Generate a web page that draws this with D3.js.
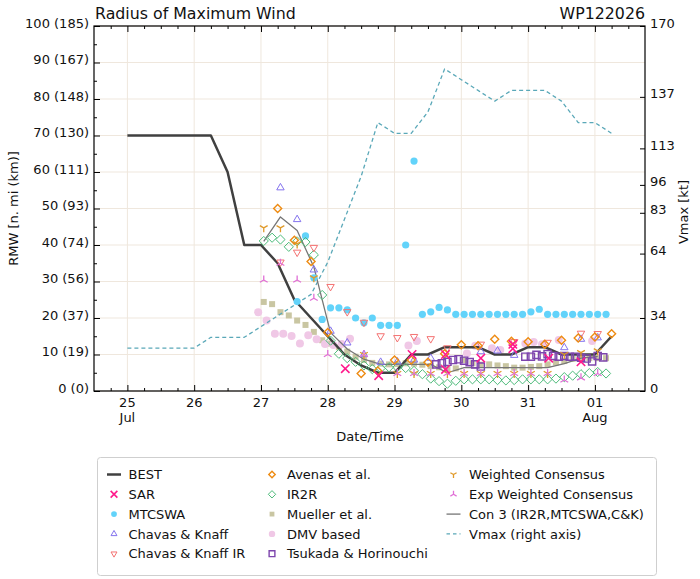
<!DOCTYPE html>
<html><head><meta charset="utf-8">
<script src="https://cdn.jsdelivr.net/npm/d3@7"></script>
<style>
body{margin:0;background:#fff;}
text{font-family:"DejaVu Sans",sans-serif;fill:#111;}
</style></head>
<body><svg id="c" width="700" height="579"></svg>
<script>
// ---- data (time = hours after 25 Jul 00Z, value = RMW n mi / Vmax kt) ----
const dayTicks = [0,24,48,72,96,120,144,168];
const dayLabels = [["25","Jul"],["26",""],["27",""],["28",""],["29",""],["30",""],["31",""],["01","Aug"]];
const rmwTicks = [0,10,20,30,40,50,60,70,80,90,100];
const rmwTickLabels = ["0 (0)","10 (19)","20 (37)","30 (56)","40 (74)","50 (93)","60 (111)","70 (130)","80 (148)","90 (167)","100 (185)"];
const vmaxTicks = [0,34,64,83,96,113,137,170];

const best = [[0,70],[6,70],[12,70],[18,70],[24,70],[30,70],[36,60],[42,40],[48,40],[54,35],[60,25],[66,20],[72,15],[78,10],[84,7],[90,5],[96,5],[102,10],[108,10],[114,12],[120,12],[126,12],[132,10],[138,10],[144,12],[150,12],[156,10],[162,10],[168,10],[174,15]];
const vmax = [[0,20],[6,20],[12,20],[18,20],[24,20],[30,25],[36,25],[42,25],[48,30],[54,35],[60,40],[66,45],[72,60],[78,80],[84,100],[90,125],[96,120],[102,120],[108,130],[114,150],[120,145],[126,140],[132,135],[138,140],[144,140],[150,140],[156,135],[162,125],[168,125],[174,120]];
const con3 = [[49,41],[55,47.7],[61,44],[67,34],[73,16],[79,11.5],[85,8.7],[91,7.3],[97,7.3],[103,7.3],[109,7.3],[115,5],[121,6.4],[127,6.4],[133,6.4],[139,6.4],[145,6.4],[151,6.4],[157,7.5],[163,9],[169,9.5]];
const sar = [[78.3,6.1],[90.3,4.2],[102.3,10],[114.3,10],[114.3,5.9],[127,9],[138.5,12.8],[138.5,11.6],[151.4,9],[163,8]];
const mtcswa = [[61,24.5],[64,42.5],[67,31],[70,19.6],[73,22.8],[76,22.8],[79,22.2],[82,20],[85,18.7],[88,20],[91,18],[94,18],[97,18],[100,40],[103,63],[106,21],[109,21.7],[112,22.9],[115,22.2],[118,21],[121,21],[124,21],[127,21],[130,21],[133,21],[136,21],[139,21],[142,21],[145,21.7],[148,22.4],[151,21],[154,21],[157,21],[160,21],[163,21],[166,21],[169,21],[172,21]];
const chavasKnaff = [[55,55.7],[61,47],[67,33.2],[73,16.4],[79,13.2],[85,10],[91,7.9],[97,8],[103,8.5],[109,9],[127,10.8],[133,11],[139,9.8],[157,11.9],[163,14.2],[169,14.6]];
const chavasKnaffIR = [[55,35.3],[61,38],[67,39.3],[73,28.6],[79,21.7],[85,18.8],[91,15.1],[97,14.6],[103,14.9],[109,14.3],[115,11.8],[127,12.8],[139,13.5],[151,13.3],[163,15.8],[169,15.7]];
const avenas = [[54,50],[60,41.3],[66,35.5],[72,16],[84,4.8],[90,5.5],[96,8.5],[102,8.5],[108,7.9],[114,10.2],[120,12.7],[126,12.4],[132,14.2],[138,13.6],[144,13.5],[150,12.8],[156,13.9],[162,14.5],[168,14.8],[174,15.7]];
const ir2r = [[49,41.1],[52,42],[55,41.5],[58,39.5],[61,41],[64,40.8],[67,37.3],[70,26.3],[73,13.8],[76,10.2],[79,9],[82,8],[85,7],[88,6],[91,6.2],[94,6.5],[97,6.5],[100,6.3],[103,5.5],[106,4.6],[109,3.4],[112,2.7],[115,2],[118,2.8],[121,3.2],[124,3.2],[127,3.2],[130,3.2],[133,3],[136,2.9],[139,3],[142,3.2],[145,3.2],[148,3.2],[151,3.2],[154,3.4],[157,3.8],[160,4.2],[163,4.6],[166,4.9],[169,5.2],[172,4.8]];
const mueller = [[49,24.4],[52,23.8],[55,21.6],[58,20.7],[61,19.3],[64,18.1],[67,16.2],[70,13.9],[73,13],[76,12],[79,10.8],[82,9.4],[85,8.5],[88,7.7],[91,7.5],[94,7.3],[97,7.4],[100,7.6],[103,7.5],[106,7.2],[109,6.8],[112,6.5],[115,6.3],[118,6.2],[121,8.5],[124,7.6],[127,7.2],[130,7.3],[133,7],[136,6.8],[139,6.4],[142,6.4],[145,6.6],[148,6.8],[151,7.3],[154,7.8],[157,8.2],[160,8.8],[163,8.8],[166,9],[169,9],[172,9]];
const dmv = [[47,21.6],[50,19.3],[53,15.7],[56,15.7],[59,15.1],[62,13],[65,15.3],[68,14.2],[71,12.9],[74,12.6],[77,12.9],[80,14.3],[101,12.5],[104,13.7],[122,10.3],[125,12.4],[131,11.7],[134,11.2],[143,13],[146,13.4],[149,12.8],[155,14],[167,13.7]];
const tsukada = [[111,7.3],[113,7.6],[115,8],[117,8.5],[119,8.7],[121,8.3],[123,7.9],[125,7.3],[127,6.7],[143,9.4],[145,9.4],[147,9.9],[149,9.5],[151,10.1],[153,9.6],[155,9.4],[157,9.6],[159,9.4],[161,9.4],[163,9.1],[165,8.9],[167,8.1],[169,9.6],[171,9.2]];
const weighted = [[49,44.7],[55,44.7],[61,40.3],[67,31],[85,10],[97,4.8],[103,4.8],[109,4.8],[115,4.8],[121,4.8],[127,4.8],[133,4.8],[139,4.8],[145,4.8],[151,4.8],[157,10],[163,10.5],[169,11]];
const expWeighted = [[49,30.4],[55,35],[61,30.4],[67,25.4],[72,10],[85,10],[97,4.8],[103,4.8],[109,4.8],[115,4.8],[121,4.8],[127,4.8],[133,4.8],[139,4.8],[145,4.8],[151,4.8],[157,3],[163,3.6],[169,4.8]];

// ---- layout ----
const L=94, R=645, T=26, B=391;
const svg=d3.select("#c");
const x=d3.scaleLinear().domain([-12,186]).range([L,R]);
const y=d3.scaleLinear().domain([0,100]).range([B,T]);
const yv=d3.scaleLinear().domain([0,170]).range([B,T]);

// grid
const grid=svg.append("g").attr("stroke","#efe7dd").attr("stroke-width",1);
dayTicks.forEach(d=>grid.append("line").attr("x1",x(d)).attr("x2",x(d)).attr("y1",T).attr("y2",B));
rmwTicks.forEach(d=>grid.append("line").attr("x1",L).attr("x2",R).attr("y1",y(d)).attr("y2",y(d)));

// marker shapes
function shape(type){
  switch(type){
    case "x": {const r=4.2;return `M${-r},${-r}L${r},${r}M${-r},${r}L${r},${-r}`;}
    case "tu": {const r=4.3;return `M0,${-r}L${r*0.866},${r*0.5}L${-r*0.866},${r*0.5}Z`;}
    case "td": {const r=4.3;return `M0,${r}L${r*0.866},${-r*0.5}L${-r*0.866},${-r*0.5}Z`;}
    case "dA": {const r=4;return `M0,${-r}L${r},0L0,${r}L${-r},0Z`;}
    case "dI": {const r=4.6;return `M0,${-r}L${r},0L0,${r}L${-r},0Z`;}
    case "sq": {const s=3;return `M${-s},${-s}h${2*s}v${2*s}h${-2*s}Z`;}
    case "sqo": {const s=3.6;return `M${-s},${-s}h${2*s}v${2*s}h${-2*s}Z`;}
    case "Y": {const r=4.5;return `M0,0L0,${r}M0,0L${-r*0.866},${-r*0.5}M0,0L${r*0.866},${-r*0.5}`;}
    case "iY": {const r=4.5;return `M0,0L0,${-r}M0,0L${-r*0.866},${r*0.5}M0,0L${r*0.866},${r*0.5}`;}
  }
}
const series=[
  {name:"BEST",kind:"line",data:best,color:"#404040",w:2.5},
  {name:"SAR",kind:"mark",data:sar,color:"#ff1a8c",m:"x",fill:false,sw:1.6},
  {name:"MTCSWA",kind:"circle",data:mtcswa,color:"#62d3fa",r:3.6},
  {name:"Chavas & Knaff",kind:"mark",data:chavasKnaff,color:"#8473ee",m:"tu",fill:false,sw:1},
  {name:"Chavas & Knaff IR",kind:"mark",data:chavasKnaffIR,color:"#f47272",m:"td",fill:false,sw:1},
  {name:"Avenas et al.",kind:"mark",data:avenas,color:"#ee8b12",m:"dA",fill:false,sw:1.4},
  {name:"IR2R",kind:"mark",data:ir2r,color:"#4dbb7a",m:"dI",fill:false,sw:1},
  {name:"Mueller et al.",kind:"mark",data:mueller,color:"#c9c6a2",m:"sq",fill:true,sw:0},
  {name:"DMV based",kind:"circle",data:dmv,color:"#f0c8e6",r:4},
  {name:"Tsukada & Horinouchi",kind:"mark",data:tsukada,color:"#7d45ad",m:"sqo",fill:false,sw:1.4},
  {name:"Weighted Consensus",kind:"mark",data:weighted,color:"#e09a2a",m:"Y",fill:false,sw:1.3},
  {name:"Exp Weighted Consensus",kind:"mark",data:expWeighted,color:"#e070d6",m:"iY",fill:false,sw:1.3},
  {name:"Con 3 (IR2R,MTCSWA,C&K)",kind:"line",data:con3,color:"#767676",w:1.3},
  {name:"Vmax (right axis)",kind:"vline",data:vmax,color:"#5aa8b8",w:1.3,dash:"4,3"}
];
const byName=Object.fromEntries(series.map(s=>[s.name,s]));
const plot=svg.append("g");
const lineGen=(sc)=>d3.line().x(d=>x(d[0])).y(d=>sc(d[1]));
function drawSeries(s){
  if(s.kind==="line"||s.kind==="vline"){
    plot.append("path").attr("d",lineGen(s.kind==="vline"?yv:y)(s.data)).attr("fill","none")
      .attr("stroke",s.color).attr("stroke-width",s.w).attr("stroke-dasharray",s.dash||null).attr("stroke-linejoin","round");
  } else if(s.kind==="circle"){
    plot.append("g").selectAll("circle").data(s.data).join("circle")
      .attr("cx",d=>x(d[0])).attr("cy",d=>y(d[1])).attr("r",s.r).attr("fill",s.color);
  } else {
    plot.append("g").selectAll("path").data(s.data).join("path")
      .attr("transform",d=>`translate(${x(d[0])},${y(d[1])})`).attr("d",shape(s.m))
      .attr("fill",s.fill?s.color:"none").attr("stroke",s.fill?"none":s.color).attr("stroke-width",s.sw);
  }
}
// drawing order
["Mueller et al.","DMV based","Vmax (right axis)","BEST","Con 3 (IR2R,MTCSWA,C&K)","MTCSWA","IR2R","Chavas & Knaff","Chavas & Knaff IR","Avenas et al.","Tsukada & Horinouchi","Weighted Consensus","Exp Weighted Consensus","SAR"].forEach(n=>drawSeries(byName[n]));

// frame
svg.append("rect").attr("x",L).attr("y",T).attr("width",R-L).attr("height",B-T).attr("fill","none").attr("stroke","#000").attr("stroke-width",1.2);

// axes
function styleAxis(g){g.select(".domain").remove();g.selectAll("line").attr("stroke","#000");g.selectAll("text").attr("font-size",13).attr("font-family","DejaVu Sans").attr("fill","#111");}
const minorY=d3.range(5,100,10);
svg.append("g").attr("transform",`translate(${L},0)`).call(d3.axisLeft(y).tickValues(rmwTicks).tickSize(-6).tickPadding(5).tickFormat((d,i)=>rmwTickLabels[i])).call(styleAxis).selectAll("text").attr("dy","1px");
svg.append("g").attr("transform",`translate(${L},0)`).call(d3.axisLeft(y).tickValues(minorY).tickSize(-3).tickFormat("")).call(styleAxis);
svg.append("g").attr("transform",`translate(${R},0)`).call(d3.axisRight(yv).tickValues(vmaxTicks).tickSize(-5).tickPadding(5)).call(styleAxis).selectAll("text").attr("dy","1px");
const minorX=d3.range(-6,186,6).filter(h=>h%24!==0);
[[B,d3.axisBottom],[T,d3.axisTop]].forEach(([pos,ax])=>{
  svg.append("g").attr("transform",`translate(0,${pos})`).call(ax(x).tickValues(dayTicks).tickSize(-6).tickFormat("")).call(styleAxis);
  svg.append("g").attr("transform",`translate(0,${pos})`).call(ax(x).tickValues(minorX).tickSize(-3).tickFormat("")).call(styleAxis);
});
const xl=svg.append("g");
dayTicks.forEach((d,i)=>{
  xl.append("text").attr("x",x(d)).attr("y",406.5).attr("text-anchor","middle").attr("font-size",13).text(dayLabels[i][0]);
  if(dayLabels[i][1]) xl.append("text").attr("x",x(d)).attr("y",422).attr("text-anchor","middle").attr("font-size",13).text(dayLabels[i][1]);
});
svg.append("text").attr("x",370).attr("y",441).attr("text-anchor","middle").attr("font-size",13).text("Date/Time");
svg.append("text").attr("transform",`translate(18,${(T+B)/2}) rotate(-90)`).attr("text-anchor","middle").attr("font-size",13).text("RMW [n. mi (km)]");
svg.append("text").attr("transform",`translate(688,212) rotate(-90)`).attr("text-anchor","middle").attr("font-size",13).text("Vmax [kt]");
svg.append("text").attr("x",95).attr("y",18.5).attr("font-size",15.8).text("Radius of Maximum Wind");
svg.append("text").attr("x",645).attr("y",18.5).attr("text-anchor","end").attr("font-size",15.8).text("WP122026");

// legend
const lg=svg.append("g");
lg.append("rect").attr("x",97.5).attr("y",457.5).attr("width",559).attr("height",118).attr("rx",3).attr("fill","#fff").attr("stroke","#cfcfcf");
const cols=[
  ["BEST","SAR","MTCSWA","Chavas & Knaff","Chavas & Knaff IR"],
  ["Avenas et al.","IR2R","Mueller et al.","DMV based","Tsukada & Horinouchi"],
  ["Weighted Consensus","Exp Weighted Consensus","Con 3 (IR2R,MTCSWA,C&K)","Vmax (right axis)"]
];
const colX=[114,272,453.5], textX=[128.5,287,469], rowY=[474.5,494.3,514.1,533.9,553.7];
cols.forEach((col,ci)=>col.forEach((n,ri)=>{
  const s=byName[n], cx=colX[ci], cy=rowY[ri];
  if(s.kind==="line"||s.kind==="vline"){
    lg.append("line").attr("x1",cx-7).attr("x2",cx+7).attr("y1",cy).attr("y2",cy).attr("stroke",s.color).attr("stroke-width",s.w).attr("stroke-dasharray",s.dash?"3.5,3":null);
  } else if(s.kind==="circle"){
    lg.append("circle").attr("cx",cx).attr("cy",cy).attr("r",s.r*0.8).attr("fill",s.color);
  } else {
    lg.append("path").attr("transform",`translate(${cx},${cy}) scale(0.8)`).attr("d",shape(s.m)).attr("fill",s.fill?s.color:"none").attr("stroke",s.fill?"none":s.color).attr("stroke-width",s.sw/0.8);
  }
  lg.append("text").attr("x",textX[ci]).attr("y",cy+4.6).attr("font-size",13).text(n);
}));
</script></body></html>
